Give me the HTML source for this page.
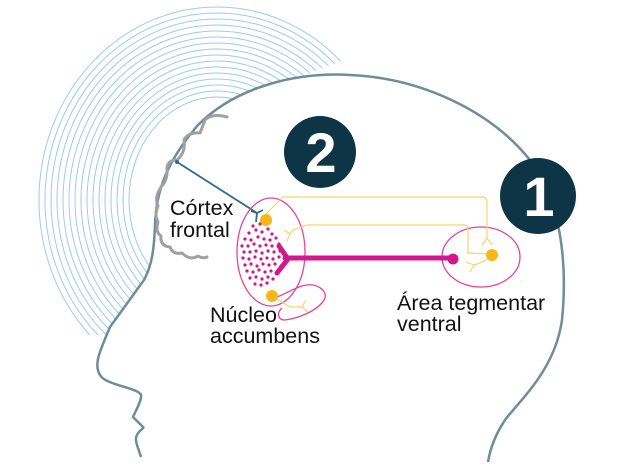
<!DOCTYPE html>
<html><head><meta charset="utf-8"><style>
html,body{margin:0;padding:0;background:#fff;width:640px;height:472px;overflow:hidden}
svg{display:block}
text{font-family:"Liberation Sans",sans-serif;font-size:21.5px;fill:#111}
</style></head><body>
<svg width="640" height="472" viewBox="0 0 640 472" xmlns="http://www.w3.org/2000/svg">
<defs>
<clipPath id="ac"><polygon points="0,0 345,0 345,60 250,95 140,330 100,335 0,335"/></clipPath>
</defs>
<g clip-path="url(#ac)" fill="none" stroke="#9ccbec" stroke-width="1">
<ellipse cx="217" cy="200" rx="178" ry="193"/>
<ellipse cx="217" cy="200" rx="172" ry="187"/>
<ellipse cx="217" cy="200" rx="166" ry="181"/>
<ellipse cx="217" cy="200" rx="160" ry="175"/>
<ellipse cx="217" cy="200" rx="154" ry="169"/>
<ellipse cx="217" cy="200" rx="148" ry="163"/>
<ellipse cx="217" cy="200" rx="142" ry="157"/>
<ellipse cx="217" cy="200" rx="136" ry="151"/>
<ellipse cx="217" cy="200" rx="130" ry="145"/>
<ellipse cx="217" cy="200" rx="124" ry="139"/>
<ellipse cx="217" cy="200" rx="118" ry="133"/>
<ellipse cx="217" cy="200" rx="112" ry="127"/>
<ellipse cx="217" cy="200" rx="106" ry="121"/>
<ellipse cx="217" cy="200" rx="100" ry="115"/>
<ellipse cx="217" cy="200" rx="94" ry="109"/>
<ellipse cx="217" cy="200" rx="88" ry="103"/>
</g>
<path d="M141,457 C138,447 134,440 137,435 C139,430 145,428 143,427 L133,417 C136,410 142,400 141,395 C139,388 105,385 100,375 C94,365 98,355 110,327 L144,280 C152,265 154,250 155,225 C156,190 168,160 198,125 C238,85 300,72 350,75 C420,78 490,110 530,160 C560,200 568,260 562,320 C555,370 520,400 505,420 C495,435 490,450 488,462 L141,472 Z" fill="#fff" stroke="none"/>
<path d="M141,457 C138,447 134,440 137,435 C139,430 145,428 143,427 L133,417 C136,410 142,400 141,395 C139,388 105,385 100,375 C94,365 98,355 110,327 L144,280 C152,265 154,250 155,225 C156,190 168,160 198,125 C238,85 300,72 350,75 C420,78 490,110 530,160 C560,200 568,260 562,320 C555,370 520,400 505,420 C495,435 490,450 488,462" fill="none" stroke="#6e8c9a" stroke-width="2.5"/>
<!-- cortex -->
<path d="M227,117 Q212,113 205,120 Q202,128 200,133 Q188,132 184,140 Q186,152 177,160 Q168,160 167,168 Q168,180 161,187 Q154,198 158,206 Q154,215 158,222 Q155,232 161,236 Q160,246 170,247 Q173,255 182,253 Q190,261 198,256 Q203,259 207,257" fill="none" stroke="#a0a0a0" stroke-width="3" stroke-linecap="round" stroke-linejoin="round"/>
<!-- blue connector -->
<path d="M177,162 L257,213" stroke="#2f6b8f" stroke-width="1.8" fill="none"/>
<circle cx="177" cy="162" r="2" fill="#2f6b8f"/>
<path d="M251,211 L257,213 L263,210 M257,213 L256,222" stroke="#2f6b8f" stroke-width="1.8" fill="none"/>
<!-- ellipses -->
<ellipse cx="271" cy="252" rx="34" ry="54" fill="none" stroke="#e6439a" stroke-width="1.3"/>
<path d="M277,297 C290,292 302,283 313,285 C322,287 328,293 324,300 C318,310 300,318 285,320 C277,320 277,312 282,308" fill="none" stroke="#e6439a" stroke-width="1.3"/>
<ellipse cx="481" cy="257" rx="39" ry="30" fill="none" stroke="#e6439a" stroke-width="1.3"/>
<!-- yellow -->
<g fill="none" stroke="#f6d46a" stroke-width="1.2">
<path d="M266,214 L283,197 L482,197 Q487,197 487,203 L487,238 M487,238 L482,245 M487,238 L492,245"/>
<path d="M290,234 L293,230 L307,225 L465,225 Q468,225 468,230 L468,253 L490,254"/>
<path d="M284,230 L290,234 L287,241"/>
<path d="M492,255 Q485,262 474,265 M474,265 L466,262 M474,265 L470,272"/>
<path d="M272,296 L290,307 L302,307 M302,307 L306,300 M302,307 L308,312"/>
</g>
<g fill="#f7b718">
<circle cx="266" cy="220" r="6"/>
<circle cx="492" cy="255" r="6"/>
<circle cx="272" cy="296" r="6"/>
</g>
<!-- magenta -->
<g fill="#d4168c">
<circle cx="249" cy="233" r="1.6"/><circle cx="256" cy="230" r="1.6"/><circle cx="262" cy="232" r="1.6"/><circle cx="268" cy="229" r="1.6"/><circle cx="272" cy="234" r="1.6"/>
<circle cx="245" cy="239" r="1.6"/><circle cx="251" cy="240" r="1.6"/><circle cx="258" cy="237" r="1.6"/><circle cx="264" cy="239" r="1.6"/><circle cx="270" cy="240" r="1.6"/><circle cx="276" cy="238" r="1.6"/>
<circle cx="242" cy="246" r="1.6"/><circle cx="248" cy="246" r="1.6"/><circle cx="254" cy="244" r="1.6"/><circle cx="260" cy="246" r="1.6"/><circle cx="266" cy="245" r="1.6"/><circle cx="272" cy="246" r="1.6"/><circle cx="279" cy="244" r="1.6"/>
<circle cx="244" cy="252" r="1.6"/><circle cx="250" cy="252" r="1.6"/><circle cx="256" cy="251" r="1.6"/><circle cx="262" cy="253" r="1.6"/><circle cx="268" cy="251" r="1.6"/><circle cx="274" cy="252" r="1.6"/><circle cx="280" cy="251" r="1.6"/>
<circle cx="243" cy="258" r="1.6"/><circle cx="249" cy="259" r="1.6"/><circle cx="255" cy="257" r="1.6"/><circle cx="261" cy="259" r="1.6"/><circle cx="267" cy="258" r="1.6"/><circle cx="273" cy="259" r="1.6"/><circle cx="279" cy="257" r="1.6"/>
<circle cx="245" cy="265" r="1.6"/><circle cx="251" cy="264" r="1.6"/><circle cx="257" cy="266" r="1.6"/><circle cx="263" cy="264" r="1.6"/><circle cx="269" cy="265" r="1.6"/><circle cx="275" cy="264" r="1.6"/><circle cx="281" cy="266" r="1.6"/>
<circle cx="247" cy="271" r="1.6"/><circle cx="253" cy="272" r="1.6"/><circle cx="259" cy="270" r="1.6"/><circle cx="265" cy="272" r="1.6"/><circle cx="271" cy="271" r="1.6"/><circle cx="277" cy="272" r="1.6"/>
<circle cx="250" cy="278" r="1.6"/><circle cx="256" cy="277" r="1.6"/><circle cx="262" cy="279" r="1.6"/><circle cx="268" cy="277" r="1.6"/><circle cx="273" cy="279" r="1.6"/>
<circle cx="255" cy="284" r="1.6"/><circle cx="261" cy="285" r="1.6"/><circle cx="267" cy="283" r="1.6"/>
<circle cx="253" cy="226" r="1.6"/><circle cx="260" cy="224" r="1.6"/>
</g>
<g stroke="#d4168c" fill="none" stroke-linecap="round">
<path d="M285,258 L452,258" stroke-width="5"/>
<path d="M288,259 L279,246 M288,259 L277,273" stroke-width="5"/>
</g>
<circle cx="453" cy="259" r="5.5" fill="#d4168c"/>
<!-- badges -->
<circle cx="320" cy="152" r="36" fill="#0d3545"/>
<text x="321" y="172" text-anchor="middle" style="font-size:56px;font-weight:bold;fill:#fff">2</text>
<circle cx="538" cy="196" r="38" fill="#0d3545"/>
<text x="539" y="216" text-anchor="middle" style="font-size:56px;font-weight:bold;fill:#fff">1</text>
<!-- labels -->
<text x="170" y="215">Córtex</text>
<text x="170" y="237">frontal</text>
<text x="210" y="322">Núcleo</text>
<text x="210" y="343">accumbens</text>
<text x="397" y="310">Área tegmentar</text>
<text x="397" y="331">ventral</text>
</svg>
</body></html>
